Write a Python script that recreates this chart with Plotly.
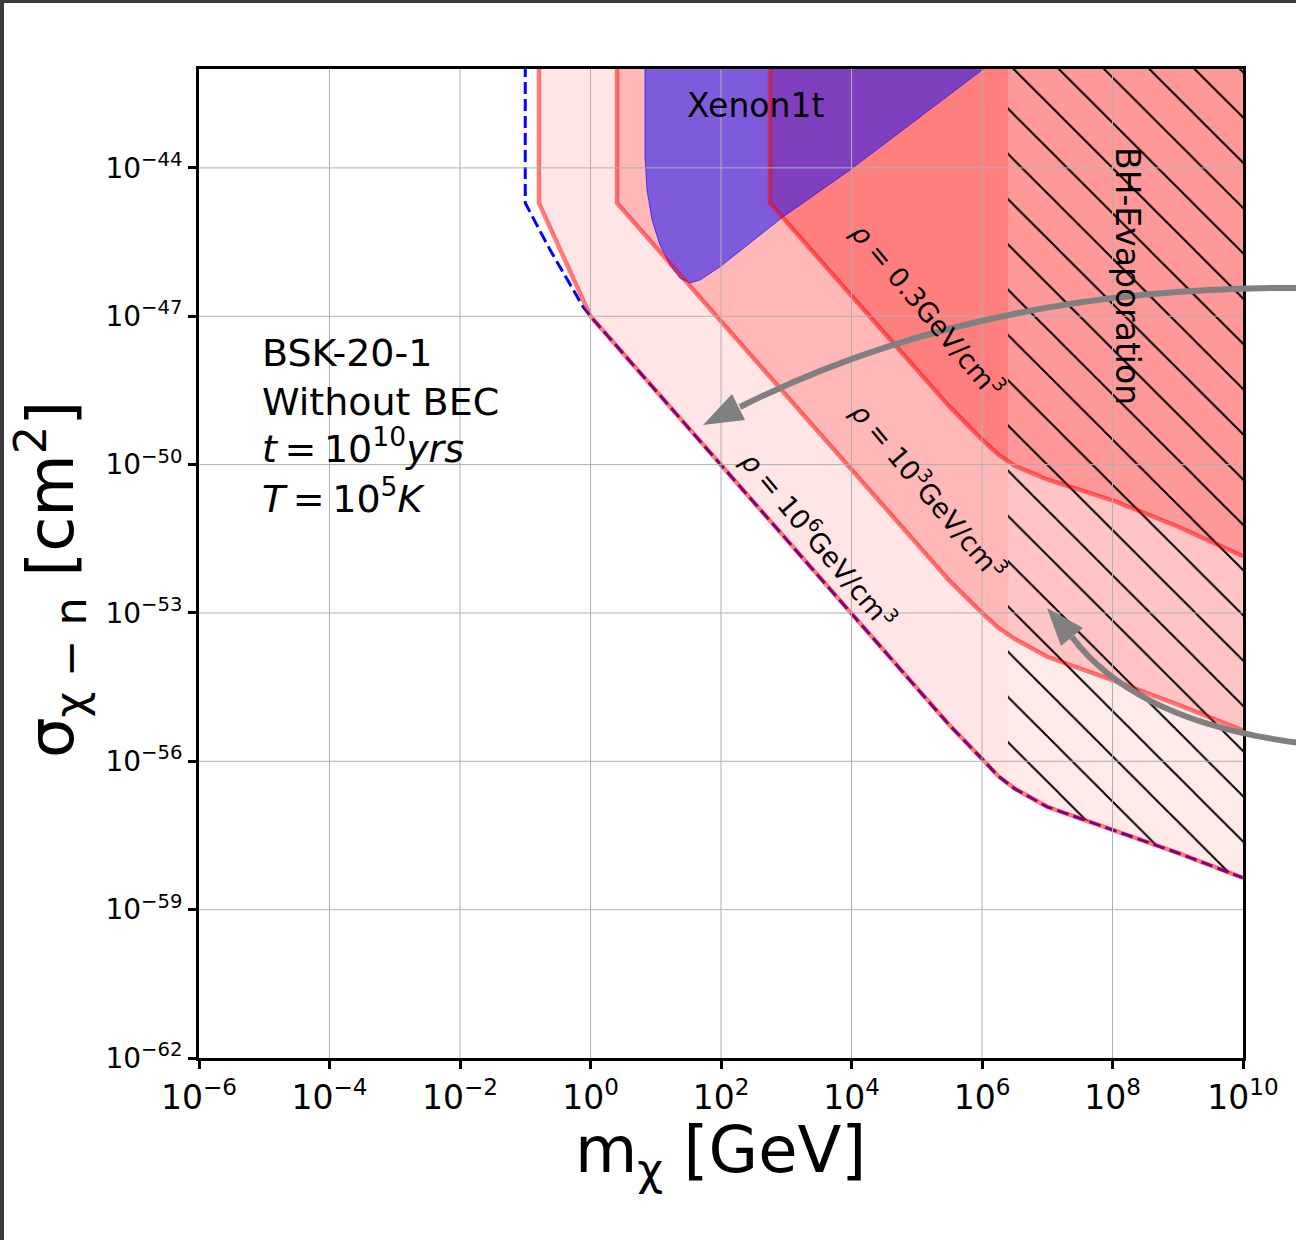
import plotly.graph_objects as go

# ---------------- data ----------------
x_tick_exp = [-6, -4, -2, 0, 2, 4, 6, 8, 10]
y_tick_exp = [-62, -59, -56, -53, -50, -47, -44]

# blue dashed limit
blue_m = [0.1, 0.1, 0.24, 0.77, 1.0, 1e2, 1e4, 3.16e5, 1e6, 1.78e6, 3.16e6, 1e7, 1e8, 1e9, 1e10]
blue_s = [1.2e-42, 1.95e-45, 2.2e-46, 1.55e-47, 1e-47, 1e-50, 1e-53, 5.4e-56, 1.12e-56, 5.0e-57, 2.8e-57, 1.2e-57, 4.1e-58, 1.4e-58, 4.4e-59]

# rho = 1e6 GeV/cm^3 boundary
rho6_m = [0.162, 0.162, 1.0, 1e2, 1e4, 3.16e5, 1e6, 1.78e6, 3.16e6, 1e7, 1e8, 1e9, 1e10]
rho6_s = [1.2e-42, 1.95e-45, 1e-47, 1e-50, 1e-53, 5.4e-56, 1.12e-56, 5.0e-57, 2.8e-57, 1.2e-57, 4.1e-58, 1.4e-58, 4.4e-59]

# rho = 1e3 GeV/cm^3 boundary
rho3_m = [2.55, 2.55, 1e2, 1e4, 3.16e5, 1e6, 1.78e6, 3.16e6, 1e7, 1e8, 1e9, 1e10]
rho3_s = [1.2e-42, 1.95e-45, 7.9e-48, 7.9e-51, 4.5e-53, 1.0e-53, 5.0e-54, 3.0e-54, 1.3e-54, 4.4e-55, 1.4e-55, 4.2e-56]

# rho = 0.3 GeV/cm^3 boundary
rho03_m = [562, 562, 1e4, 1e5, 3.16e5, 1e6, 1.78e6, 3.16e6, 1e7, 1e8, 1e9, 1e10]
rho03_s = [1.2e-42, 1.95e-45, 2.6e-47, 8.2e-49, 1.5e-49, 3.2e-50, 1.6e-50, 9.5e-51, 5.0e-51, 1.9e-51, 5.6e-52, 1.4e-52]

# Xenon1t excluded region
xenon_m = [6.84, 6.84, 7.35, 8.77, 11.6, 16.5, 23.5, 33.5, 47.6, 96.6, 891, 9.48e3, 1e6, 1.26e6]
xenon_s = [1.2e-42, 1.66e-44, 3.55e-45, 8.9e-46, 2.75e-46, 1.1e-46, 5.9e-47, 4.7e-47, 5.4e-47, 1e-46, 1.02e-45, 9.1e-45, 9.5e-43, 1.2e-42]

# BH evaporation region (m > 2.5e6 GeV, above lowest curve)
bh_m = [2.5e6, 3.16e6, 1e7, 1e8, 1e9, 1e10, 1.26e10, 1.26e10, 2.5e6]
bh_s = [3.5e-57, 2.8e-57, 1.2e-57, 4.1e-58, 1.4e-58, 4.4e-59, 4.4e-59, 1.2e-42, 1.2e-42]

RIGHT_M = 1.26e10
TOP_S = 1.2e-42

# ---------------- helpers ----------------
W, H = 1296, 1240
ML, MR, MT, MB = 199, 53, 69, 182
PW, PH = W - ML - MR, H - MT - MB

def px(x):
    return (x - ML) / PW

def py(y):
    return 1 - (y - MT) / PH

def sup(e):
    return "10<sup>" + ("−" if e < 0 else "") + str(abs(e)) + "</sup>"

def region(m, s):
    return list(m) + [RIGHT_M, RIGHT_M], list(s) + [s[-1], TOP_S]

FONT = "DejaVu Sans"
fig = go.Figure()

# fills
for (m, s, a) in [(rho6_m, rho6_s, 0.1), (rho3_m, rho3_s, 0.2), (rho03_m, rho03_s, 0.3)]:
    xs, ys = region(m, s)
    fig.add_trace(go.Scatter(x=xs, y=ys, fill="toself", mode="lines",
                             fillcolor=f"rgba(255,0,0,{a})",
                             line=dict(width=0, color="rgba(0,0,0,0)"),
                             hoverinfo="skip", showlegend=False))

# Xenon1t
fig.add_trace(go.Scatter(x=xenon_m, y=xenon_s, fill="toself", mode="lines",
                         fillcolor="rgba(0,0,255,0.5)",
                         line=dict(width=1, color="rgba(0,0,255,0.6)"),
                         hoverinfo="skip", showlegend=False))

# BH evaporation hatch
fig.add_trace(go.Scatter(x=bh_m, y=bh_s, fill="toself", mode="lines",
                         fillcolor="rgba(255,255,255,0.2)",
                         fillpattern=dict(shape="\\", fgcolor="black", fgopacity=1,
                                          bgcolor="rgba(255,255,255,0.2)",
                                          fillmode="replace",
                                          size=32, solidity=0.06),
                         line=dict(width=0, color="rgba(0,0,0,0)"),
                         hoverinfo="skip", showlegend=False))

# blue dashed line
fig.add_trace(go.Scatter(x=blue_m, y=blue_s, mode="lines",
                         line=dict(width=3, color="blue", dash="12px,5px"),
                         hoverinfo="skip", showlegend=False))

# red boundaries
for (m, s) in [(rho6_m, rho6_s), (rho3_m, rho3_s), (rho03_m, rho03_s)]:
    fig.add_trace(go.Scatter(x=m, y=s, mode="lines",
                             line=dict(width=4.5, color="rgba(255,0,0,0.5)"),
                             hoverinfo="skip", showlegend=False))

x_tick_vals = [10.0 ** e for e in x_tick_exp]
y_tick_vals = [10.0 ** e for e in y_tick_exp]

shapes = []
# grid lines (drawn above fills, as in the reference)
for v in x_tick_vals[1:-1]:
    shapes.append(dict(type="line", xref="x", yref="paper", x0=v, x1=v, y0=0, y1=1,
                       line=dict(color="#b0b0b0", width=1), layer="above"))
for v in y_tick_vals[1:]:
    shapes.append(dict(type="line", xref="paper", yref="y", x0=0, x1=1, y0=v, y1=v,
                       line=dict(color="#b0b0b0", width=1), layer="above"))

# curved arrows
GRAY = "#808080"
def qpath(p0, p1, p2):
    return "M {:.5f},{:.5f} Q {:.5f},{:.5f} {:.5f},{:.5f}".format(
        px(p0[0]), py(p0[1]), px(p1[0]), py(p1[1]), px(p2[0]), py(p2[1]))

def tri(a, b, c):
    return "M {:.5f},{:.5f} L {:.5f},{:.5f} L {:.5f},{:.5f} Z".format(
        px(a[0]), py(a[1]), px(b[0]), py(b[1]), px(c[0]), py(c[1]))

shapes.append(dict(type="path", xref="paper", yref="paper",
                   path=qpath((1300, 288), (980, 286), (740, 407)),
                   line=dict(color=GRAY, width=6), layer="above"))
shapes.append(dict(type="path", xref="paper", yref="paper",
                   path=tri((703, 425), (745, 420), (732, 394)),
                   fillcolor=GRAY, line=dict(width=0), layer="above"))
shapes.append(dict(type="path", xref="paper", yref="paper",
                   path=qpath((1300, 743), (1136, 722), (1072, 637)),
                   line=dict(color=GRAY, width=6), layer="above"))
shapes.append(dict(type="path", xref="paper", yref="paper",
                   path=tri((1047, 608), (1083, 628), (1061, 646)),
                   fillcolor=GRAY, line=dict(width=0), layer="above"))

# page frame strips (top and left)
shapes.append(dict(type="rect", xref="paper", yref="paper",
                   x0=px(0), x1=px(W), y0=py(3), y1=py(0),
                   fillcolor="#3c3c3c", line=dict(width=0), layer="above"))
shapes.append(dict(type="rect", xref="paper", yref="paper",
                   x0=px(0), x1=px(4), y0=py(H), y1=py(0),
                   fillcolor="#3c3c3c", line=dict(width=0), layer="above"))

annotations = []
def ann(text, x, y, size, angle=0, xanchor="center", yanchor="middle"):
    annotations.append(dict(text=text, x=px(x), y=py(y), xref="paper", yref="paper",
                            showarrow=False, textangle=angle, xanchor=xanchor,
                            yanchor=yanchor, font=dict(family=FONT, size=size, color="black")))

TS = "\u2009"
ann("Xenon1t", 755, 106, 33)
ann("BH-Evaporation", 1128, 276, 33, angle=90)
ann("<i>ρ</i> = 0.3GeV/cm<sup>3</sup>", 929, 309, 27, angle=50)
ann("<i>ρ</i> = 10<sup>3</sup>GeV/cm<sup>3</sup>", 930, 490, 27, angle=50)
ann("<i>ρ</i> = 10<sup>6</sup>GeV/cm<sup>3</sup>", 820, 539, 27, angle=50)
ann("BSK-20-1", 260, 353, 38, xanchor="left")
ann("Without BEC", 260, 402, 38, xanchor="left")
ann("<i>t</i>" + TS + "=" + TS + "10<sup>10</sup><i>yrs</i>", 260, 446, 38, xanchor="left")
ann("<i>T</i>" + TS + "=" + TS + "10<sup>5</sup><i>K</i>", 260, 496, 38, xanchor="left")
ann("m<sub>χ</sub> [GeV]", 720, 1154, 64)
ann("σ<sub>χ − n</sub> [cm<sup>2</sup>]", 50, 580, 64, angle=-90)

axis_common = dict(type="log", showgrid=False, zeroline=False, showline=True,
                   linewidth=3, linecolor="black", mirror=True, ticks="outside",
                   ticklen=8, tickwidth=3, tickcolor="black", tickmode="array")

fig.update_layout(
    width=W, height=H,
    margin=dict(l=ML, r=MR, t=MT, b=MB),
    paper_bgcolor="white", plot_bgcolor="white",
    showlegend=False,
    xaxis=dict(range=[-6, 10], tickvals=x_tick_vals,
               ticktext=[sup(e) for e in x_tick_exp],
               tickfont=dict(family=FONT, size=33, color="black"), **axis_common),
    yaxis=dict(range=[-62, -42], tickvals=y_tick_vals,
               ticktext=[sup(e) for e in y_tick_exp],
               tickfont=dict(family=FONT, size=28, color="black"), **axis_common),
    shapes=shapes,
    annotations=annotations,
)

fig.write_html("out.html")
